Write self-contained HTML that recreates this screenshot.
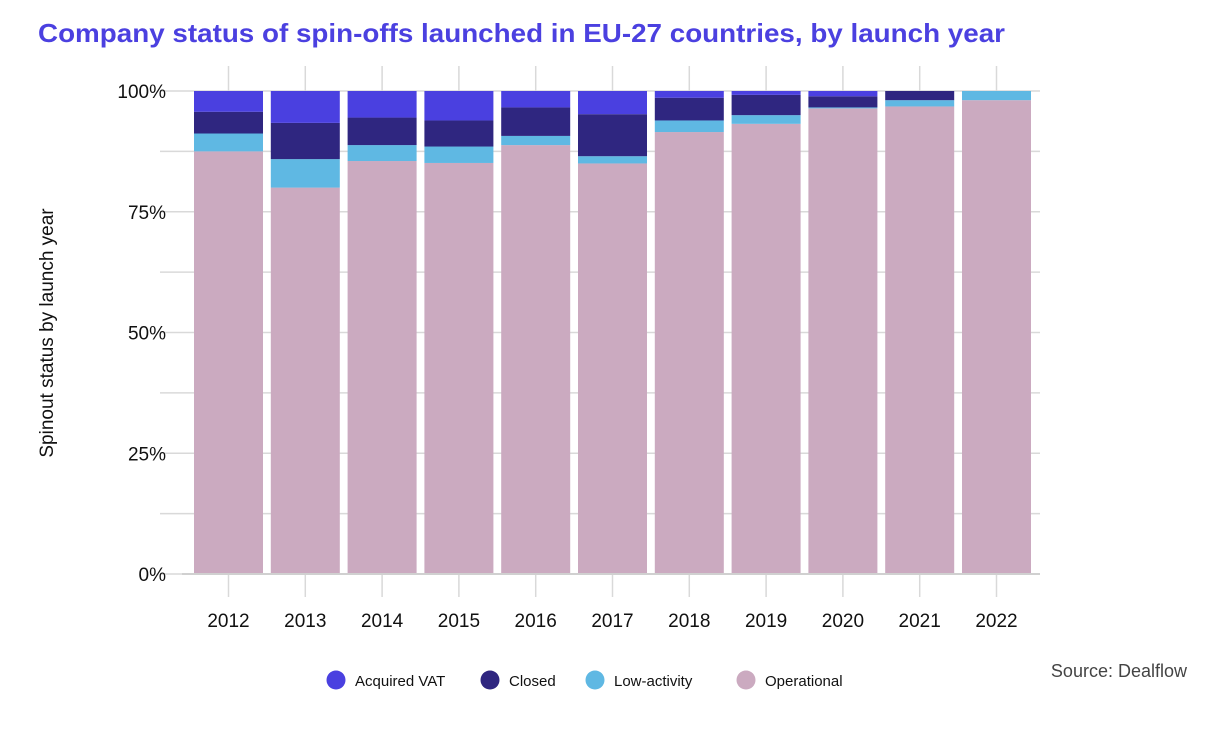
<!DOCTYPE html>
<html><head><meta charset="utf-8"><style>
body{margin:0;background:#fff;width:1212px;height:740px;overflow:hidden;font-family:"Liberation Sans",sans-serif}
</style></head><body>
<svg width="1212" height="740" xmlns="http://www.w3.org/2000/svg">
<text x="38" y="42" font-size="26" font-weight="bold" fill="#4b40e0" textLength="967" lengthAdjust="spacingAndGlyphs">Company status of spin-offs launched in EU-27 countries, by launch year</text>
<text transform="translate(53,333) rotate(-90)" text-anchor="middle" font-size="19" fill="#111">Spinout status by launch year</text>
<text x="1187" y="677" text-anchor="end" font-size="18" fill="#444">Source: Dealflow</text>
<g id="grid"></g><g id="bars"></g><g id="axes"></g><g id="legend"></g>
</svg>
<script>
const years=['2012','2013','2014','2015','2016','2017','2018','2019','2020','2021','2022'];
const operational=[87.5,80.0,85.5,85.1,88.8,85.0,91.5,93.2,96.4,96.8,98.1];
const lowActivity=[3.7,5.9,3.3,3.4,1.9,1.5,2.4,1.8,0.2,1.3,1.9];
const closed=[4.5,7.5,5.7,5.4,5.9,8.7,4.7,4.2,2.3,1.9,0];
const acquired=[4.3,6.6,5.5,6.1,3.4,4.8,1.4,0.8,1.1,0,0];
const yTicks=[0,25,50,75,100];
const seriesNames=['Acquired VAT','Closed','Low-activity','Operational'];
const colors={op:'#cbaac0',low:'#5fb8e3',closed:'#2f2680',acq:'#4a40e0'};
const NS='http://www.w3.org/2000/svg';
const y=v=>574-v*4.83;
const xc=i=>228.5+i*76.8;
const bw=69;
function mk(p,t,a){const e=document.createElementNS(NS,t);for(const k in a)e.setAttribute(k,a[k]);p.appendChild(e);return e;}
const grid=document.getElementById('grid'),bars=document.getElementById('bars'),axes=document.getElementById('axes'),leg=document.getElementById('legend');
for(let v=0;v<=100;v+=12.5){const l=mk(grid,'line',{x1:160,x2:1040,y1:y(v),y2:y(v),stroke:'#d9d9d9','stroke-width':1.5});

}
yTicks.forEach(v=>{const t=mk(axes,'text',{x:166,y:y(v)+7,'text-anchor':'end','font-size':19,fill:'#111'});t.textContent=v+'%';

});
years.forEach((yr,i)=>{
 mk(grid,'line',{x1:xc(i),x2:xc(i),y1:66,y2:91,stroke:'#d9d9d9','stroke-width':1.5});
 mk(grid,'line',{x1:xc(i),x2:xc(i),y1:574,y2:597,stroke:'#d9d9d9','stroke-width':1.5});
 let base=0;
 [['op',operational],['low',lowActivity],['closed',closed],['acq',acquired]].forEach(([k,arr])=>{
  const v=arr[i];if(v<=0)return;
  const r=mk(bars,'rect',{x:xc(i)-bw/2,y:y(base+v),width:bw,height:v*4.83,fill:colors[k]});
  
  
  base+=v;});
 const t=mk(axes,'text',{x:xc(i),y:627,'text-anchor':'middle','font-size':19,fill:'#111'});t.textContent=yr;
 
 
});
mk(axes,'line',{x1:182,x2:1040,y1:574,y2:574,stroke:'#d0d0d0','stroke-width':2});
const lc=[colors.acq,colors.closed,colors.low,colors.op],lx=[336,490,595,746];
seriesNames.forEach((n,i)=>{
 const g=mk(leg,'g',{});
 
 
 mk(g,'circle',{cx:lx[i],cy:680,r:9.5,fill:lc[i]});
 const t=mk(g,'text',{x:lx[i]+19,y:686,'font-size':15,fill:'#111'});t.textContent=n;
});
</script>
</body></html>
